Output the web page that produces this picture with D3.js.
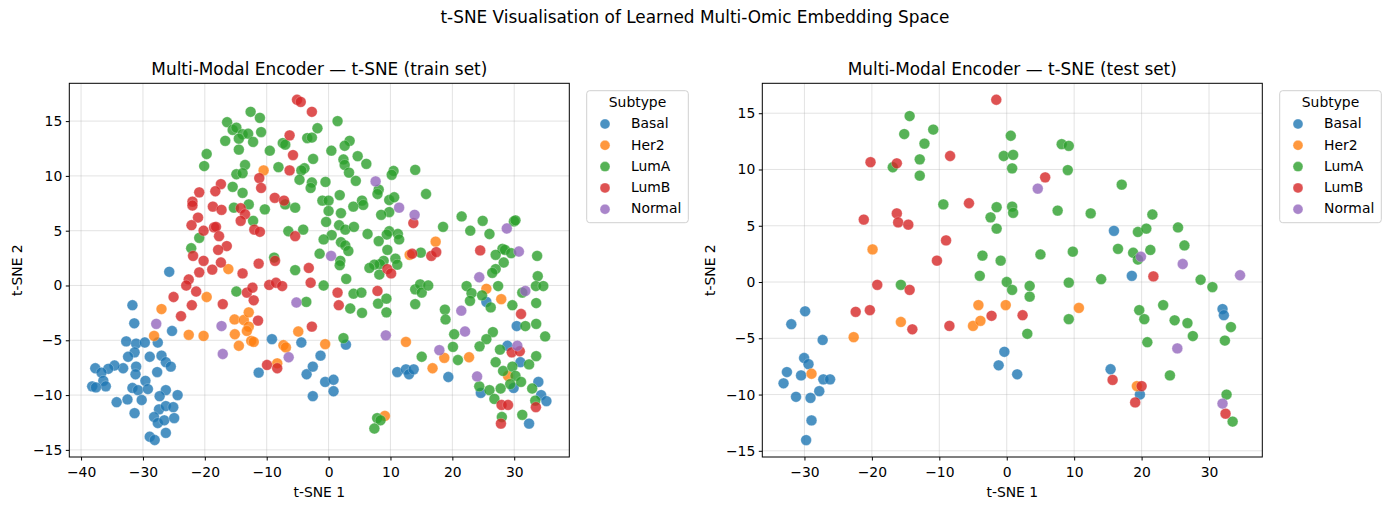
<!DOCTYPE html>
<html>
<head>
<meta charset="utf-8">
<script src="https://cdn.jsdelivr.net/npm/d3@7"></script>
<style>
  body { margin: 0; background: #fff; }
  svg text { font-family: "DejaVu Sans", sans-serif; fill: #000; }
</style>
</head>
<body>
<div id="chart"></div>
<script>
// ---- data (t-SNE 1, t-SNE 2) ----
const subtypes = ["Basal", "Her2", "LumA", "LumB", "Normal"];
const colors = ["#1f77b4", "#ff7f0e", "#2ca02c", "#d62728", "#9467bd"];

const trainBasal = [
  [-25.75,1.25],[-31.7,-1.8],[-31.4,-3.45],[-32.7,-5.1],[-31.1,-5.3],[-29.7,-5.2],[-27.6,-5.2],[-31.35,-6.1],
  [-32.4,-6.5],[-28.9,-6.5],[-27.0,-6.4],[-26.3,-7.0],[-25.5,-7.4],[-31.1,-7.4],[-33.2,-7.55],[-34.6,-7.3],
  [-35.6,-7.6],[-37.7,-7.55],[-36.7,-7.95],[-31.2,-8.1],[-27.7,-7.9],[-36.4,-8.7],[-36.0,-9.2],[-38.2,-9.2],
  [-37.6,-9.3],[-29.6,-8.7],[-31.7,-9.35],[-30.8,-9.55],[-29.2,-9.45],[-26.3,-9.55],[-24.4,-10.0],[-27.3,-10.1],
  [-34.25,-10.65],[-32.5,-10.4],[-30.2,-10.45],[-27.4,-11.3],[-26.3,-11.0],[-25.1,-11.1],[-31.35,-11.65],
  [-28.2,-12.0],[-27.6,-12.55],[-26.55,-12.3],[-24.95,-12.1],[-26.3,-13.45],[-28.9,-13.8],[-28.1,-14.1],
  [-25.3,-4.15],[-11.3,-7.95],[-9.15,-4.9],[-4.4,-5.2],[-3.55,-8.1],[-2.55,-7.4],[-2.55,-10.1],
  [2.8,-5.4],[-1.3,-6.4],[-0.55,-8.8],[0.8,-8.6],[0.8,-9.65],[11.1,-7.9],[12.5,-7.65],[13.0,-8.1],[13.75,-7.65],
  [19.35,-8.35],[25.5,-1.5],[30.4,-3.7],[28.9,-5.5],[31.0,-7.0],[29.9,-9.35],[33.9,-8.8],[34.35,-10.0],
  [35.2,-10.55],[24.6,-9.8],[32.4,-12.6]
];
const trainHer2 = [
  [-10.5,10.5],[-16.2,1.5],[13.1,2.8],[17.3,4.0],[-27.0,-2.15],[-28.2,-4.6],[-19.7,-1.05],[-22.6,-4.5],
  [-20.2,-4.6],[-15.2,-3.1],[-13.7,-3.15],[-12.9,-2.45],[-12.9,-3.75],[-13.2,-4.15],[-15.15,-4.45],
  [-12.5,-5.05],[-12.1,-5.15],[-14.5,-5.5],[-7.3,-5.45],[-6.9,-5.65],[-4.9,-4.2],[-8.3,-7.1],[-0.55,-5.35],
  [12.5,-5.15],[9.1,-11.9],[18.7,-6.6],[16.8,-7.55],[22.7,-6.55],[25.5,-0.3],[27.9,-1.25],[29.0,-8.25]
];
const trainLumA = [
  [-12.6,15.85],[-11.1,15.3],[-16.4,14.9],[-15.5,14.2],[-14.9,14.4],[-13.9,13.8],[-13.0,13.85],[-14.5,13.4],
  [-12.2,13.1],[-10.9,14.0],[-16.7,13.2],[-14.5,12.4],[-9.5,12.3],[-7.4,13.0],[-7.0,12.85],[-3.45,13.45],
  [-2.7,13.5],[-1.8,14.35],[-2.5,11.55],[-3.9,10.7],[-4.4,10.5],[-4.7,9.65],[-2.7,9.4],[-2.9,8.9],
  [-19.7,12.0],[-20.1,10.9],[-13.5,11.0],[-14.9,10.15],[-13.9,10.25],[-8.1,10.8],[-15.5,9.0],[-13.9,8.45],
  [-12.9,7.4],[-15.3,7.1],[-10.3,6.95],[-7.0,7.4],[-5.4,7.1],[-12.2,5.9],[-6.5,4.95],[-4.1,5.1],
  [-20.9,4.35],[-22.2,3.4],[-8.8,2.55],[-5.4,1.4],
  [1.45,15.0],[3.4,13.2],[2.6,12.75],[0.45,12.3],[2.4,11.5],[2.6,11.0],[4.7,11.8],[6.1,11.1],[3.3,10.3],
  [4.4,9.55],[10.5,10.45],[10.2,10.1],[14.0,10.55],[-0.5,9.45],[8.1,8.75],[7.9,8.35],[1.8,8.25],[-1.0,7.75],
  [0,7.75],[5.4,7.75],[5.6,7.35],[4.0,7.2],[9.8,7.8],[10.6,8.05],[15.75,8.35],[0,6.8],[2.0,6.6],[9.8,6.7],
  [8.5,6.45],[-0.4,5.8],[1.7,5.5],[2.7,5.1],[4.1,5.35],[0.5,4.6],[-0.8,4.2],[6.3,4.7],[9.8,4.95],[9.4,4.65],
  [11.2,4.7],[11.4,4.2],[8.1,4.05],[2.0,3.95],[2.7,3.65],[3.2,3.15],[-1.45,2.9],[9.5,3.25],[10.8,2.45],
  [11.1,1.9],[8.9,2.25],[8.3,1.95],[7.4,1.9],[6.6,1.6],[1.9,2.25],[1.8,1.85],[8.2,1.0],[2.85,0.6],[14.9,3.0],
  [18.5,5.35],[21.5,6.3],[22.9,5.0],[24.9,5.9],[26.0,4.7],[29.95,5.85],[30.2,5.95],[28.1,3.35],[28.5,3.25],
  [27.0,2.8],[29.5,2.95],[28.3,2.1],[27.0,1.5],[26.45,1.15],[33.7,2.7],[33.8,0.85],
  [-14.9,-0.55],[-3.6,-1.5],
  [-0.8,0],[4.03,-0.75],[5.3,-0.65],[3.5,-2.1],[5.4,-2.5],[8.0,-1.65],[9.35,-1.2],[9.35,-2.45],[14.0,-0.35],
  [14.8,0.1],[15.05,-0.65],[16.1,0],[14.0,-1.7],[18.8,-2.2],[18.9,-3.1],[20.3,-4.45],[20.1,-5.6],[20.9,-6.8],
  [22.3,-0.05],[23.1,-0.7],[22.85,-1.4],[24.8,-0.9],[26.2,-2.0],[27.4,-0.05],[29.7,-1.8],[31.3,-0.65],
  [33.5,-0.05],[34.7,-0.05],[33.55,-1.6],[31.8,-3.7],[33.55,-3.5],[35.0,-4.65],[26.55,-4.25],[25.5,-4.9],
  [24.4,-5.55],[27.7,-5.85],[27.0,-7.0],[28.2,-7.8],[29.7,-7.4],[30.2,-8.25],[32.4,-7.2],[33.55,-6.45],
  [31.1,-8.8],[29.35,-9.0],[27.8,-9.4],[26.0,-9.55],[24.35,-9.2],[26.8,-10.35],[32.9,-9.4],[33.4,-10.5],
  [28.0,-12.0],[31.3,-11.8],[2.4,-4.8],[15.05,-6.5],[7.85,-12.1],[8.4,-12.3],[7.4,-13.05]
];
const trainLumB = [
  [-5.1,16.95],[-4.5,16.75],[-2.7,15.85],[-6.3,13.7],[-5.75,11.9],[-6.3,10.5],[-11.2,9.8],[-10.9,8.9],
  [-17.4,9.25],[-18.3,8.6],[-20.9,8.5],[-22.0,7.65],[-22.0,7.3],[-18.7,7.2],[-17.3,6.9],[-14.2,7.05],
  [-13.5,6.5],[-14.2,5.9],[-21.1,6.2],[-22.15,5.5],[-20.2,5.0],[-18.5,5.3],[-18.2,5.35],[-17.7,4.5],
  [-16.45,3.6],[-17.85,3.25],[-21.9,2.7],[-20.2,2.25],[-17.4,2.1],[-18.8,1.45],[-20.9,1.2],[-13.9,1.1],
  [-11.3,2.0],[-8.7,8.0],[-7.2,7.75],[-12.0,5.1],[-11.1,4.9],[-5.4,4.5],[-8.65,2.25],[-3.2,1.6],
  [13.7,5.7],[9.5,1.5],[10.1,1.1],[13.5,2.9],[16.6,2.7],[17.4,3.05],[24.5,3.2],
  [-22.6,0.55],[-23.0,0],[-21.4,-0.55],[-25.05,-1.05],[-22.1,-1.8],[-23.85,-2.8],[-17.1,-1.7],[-13.2,-0.65],
  [-12.3,-0.2],[-12.1,-1.35],[-11.4,-3.2],[-9.6,0.05],[-8.5,0.25],[-7.5,-0.05],[-2.9,0.25],[-2.7,-3.75],
  [-9.95,-7.25],[-8.3,-7.55],
  [1.45,-0.65],[1.65,-1.8],[7.9,-0.5],[31.1,-2.6],[29.6,-6.1],[30.9,-6.0],[27.95,-10.9],[29.0,-10.9],
  [27.85,-12.6],[33.5,-11.1]
];
const trainNormal = [
  [7.6,9.5],[11.4,7.1],[13.9,6.45],[0.4,2.7],[28.8,5.2],[30.75,3.1],[24.35,0.75],[-27.85,-3.5],[-17.3,-3.7],
  [-17.1,-6.25],[-5.2,-1.55],[-6.45,-6.55],[31.8,-0.5],[21.45,-2.3],[22.05,-4.2],[9.25,-4.55],[17.9,-5.9],
  [24.0,-8.3],[30.5,-5.5]
];

const testBasal = [
  [-29.9,-2.6],[-31.95,-3.75],[-27.3,-5.15],[-30.05,-6.75],[-29.4,-7.3],[-32.6,-8.0],[-30.5,-8.3],[-33.1,-9.0],
  [-27.2,-8.65],[-26.2,-8.65],[-27.8,-9.7],[-31.25,-10.2],[-29.1,-10.3],[-28.95,-12.3],[-29.75,-14.05],
  [-0.35,-6.2],[-1.2,-7.4],[1.55,-8.2],[15.4,-7.75],[19.75,-10.0],[32.0,-2.4],[32.2,-2.95],[15.9,4.55],[18.55,0.55]
];
const testHer2 = [
  [-19.9,2.9],[-4.2,-2.05],[-0.15,-2.05],[-15.7,-3.55],[-5.0,-3.9],[-3.9,-3.45],[-22.7,-4.9],[-28.95,-8.15],
  [10.7,-2.3],[19.3,-9.25]
];
const testLumA = [
  [-14.4,14.75],[-15.2,13.15],[-10.9,13.55],[-12.2,12.3],[-12.9,10.9],[-16.9,10.2],[-12.9,9.45],[0.6,13.0],
  [-0.45,11.2],[0.95,11.3],[0.8,10.1],[-9.4,6.9],[-1.5,6.65],[0.8,6.7],[0.95,6.15],[-2.4,5.75],[-1.5,4.75],
  [-3.6,2.35],[-0.9,1.9],[-4.0,0.55],
  [8.15,12.25],[9.2,12.1],[9.05,9.95],[17.05,8.65],[7.55,6.35],[12.45,6.1],[21.6,6.0],[19.45,4.45],[20.7,4.75],
  [25.4,4.85],[26.35,3.25],[16.5,2.95],[18.75,2.6],[19.45,2.0],[21.3,2.85],[5.0,2.45],[9.8,2.7],[14.0,0.25],
  [28.75,0.2],
  [0,0],[0.8,-0.7],[-15.7,-0.25],
  [3.4,-0.35],[3.4,-1.3],[9.2,-0.05],[3.05,-4.6],[9.2,-3.3],[30.5,-0.45],[23.2,-2.05],[19.65,-2.5],[20.4,-3.3],
  [24.9,-3.4],[26.8,-3.65],[27.6,-4.8],[20.85,-5.35],[33.25,-4.0],[32.35,-5.2],[24.2,-8.3],[32.6,-10.0],[33.5,-12.4]
];
const testLumB = [
  [-1.55,16.2],[-20.2,10.65],[-16.3,10.55],[-8.4,11.2],[-5.6,7.0],[-16.3,6.1],[-16.1,5.3],[-21.2,5.55],
  [-14.6,5.1],[-9.0,3.7],[-10.35,1.9],[5.7,9.3],[21.75,0.5],[-19.2,-0.25],[-14.4,-0.7],[-22.4,-2.65],
  [-20.3,-2.5],[-14.0,-4.2],[-8.5,-3.9],[-2.25,-3.0],[2.35,-2.95],[15.7,-8.7],[20.0,-9.25],[19.05,-10.7],
  [32.45,-11.7]
];
const testNormal = [
  [4.6,8.3],[19.9,2.25],[26.1,1.6],[34.6,0.6],[25.3,-5.9],[32.0,-10.8]
];

const xTicks = [-40, -30, -20, -10, 0, 10, 20, 30];
const yTicks = [-15, -10, -5, 0, 5, 10, 15];

const panels = [
  { title: "Multi-Modal Encoder \u2014 t-SNE (train set)", left: 69.3,
    xDomain: [-41.9, 38.9], yDomain: [-15.65, 18.45],
    groups: [trainBasal, trainHer2, trainLumA, trainLumB, trainNormal] },
  { title: "Multi-Modal Encoder \u2014 t-SNE (test set)", left: 762.3,
    xDomain: [-36.25, 37.9], yDomain: [-15.55, 17.66],
    groups: [testBasal, testHer2, testLumA, testLumB, testNormal] }
];

const W = 1390, H = 510;
const plotW = 500, plotTop = 83.3, plotBottom = 457;

const svg = d3.select("#chart").append("svg")
  .attr("width", W).attr("height", H);

svg.append("text")
  .attr("x", 695).attr("y", 23)
  .attr("text-anchor", "middle")
  .attr("font-size", 16.9)
  .text("t-SNE Visualisation of Learned Multi-Omic Embedding Space");

panels.forEach(p => {
  const g = svg.append("g").attr("transform", `translate(${p.left},0)`);

  const xScale = d3.scaleLinear().domain(p.xDomain).range([0, plotW]);
  const yScale = d3.scaleLinear().domain(p.yDomain).range([plotBottom, plotTop]);
  const xt = xTicks.filter(t => t >= p.xDomain[0] && t <= p.xDomain[1]);

  // grid
  g.append("g").selectAll("line").data(xt).join("line")
    .attr("x1", d => xScale(d)).attr("x2", d => xScale(d))
    .attr("y1", plotTop).attr("y2", plotBottom)
    .attr("stroke", "#b0b0b0").attr("stroke-opacity", 0.35).attr("stroke-width", 1);
  g.append("g").selectAll("line").data(yTicks).join("line")
    .attr("x1", 0).attr("x2", plotW)
    .attr("y1", d => yScale(d)).attr("y2", d => yScale(d))
    .attr("stroke", "#b0b0b0").attr("stroke-opacity", 0.35).attr("stroke-width", 1);

  // points, one layer per subtype
  p.groups.forEach((pts, i) => {
    g.append("g").selectAll("circle").data(pts).join("circle")
      .attr("cx", d => xScale(d[0]))
      .attr("cy", d => yScale(d[1]))
      .attr("r", 5.4)
      .attr("fill", colors[i])
      .attr("stroke", "#fff").attr("stroke-width", 0.3)
      .attr("opacity", 0.8);
  });

  // axes
  const xAxis = d3.axisBottom(xScale).tickValues(xt).tickSizeInner(3.5).tickSizeOuter(0).tickPadding(3.5);
  const yAxis = d3.axisLeft(yScale).tickValues(yTicks).tickSizeInner(3.5).tickSizeOuter(0).tickPadding(3.5);
  const xg = g.append("g").attr("transform", `translate(0,${plotBottom})`).call(xAxis);
  const yg = g.append("g").call(yAxis);
  [xg, yg].forEach(a => {
    a.select(".domain").remove();
    a.selectAll("text").attr("font-size", 13.9).attr("font-family", "DejaVu Sans").attr("fill", "#000");
    a.selectAll("line").attr("stroke", "#000").attr("stroke-width", 1);
  });
  xg.selectAll("text").attr("dy", "0.9em");

  // frame
  g.append("rect")
    .attr("x", 0).attr("y", plotTop).attr("width", plotW).attr("height", plotBottom - plotTop)
    .attr("fill", "none").attr("stroke", "#000").attr("stroke-width", 1);

  // titles and labels
  g.append("text").attr("x", plotW / 2).attr("y", 74.5)
    .attr("text-anchor", "middle").attr("font-size", 16.9).text(p.title);
  g.append("text").attr("x", plotW / 2).attr("y", 497)
    .attr("text-anchor", "middle").attr("font-size", 13.9).text("t-SNE 1");
  g.append("text")
    .attr("transform", `translate(${-47.5},${(plotTop + plotBottom) / 2}) rotate(-90)`)
    .attr("text-anchor", "middle").attr("font-size", 13.9).text("t-SNE 2");

  // legend
  const lg = g.append("g").attr("transform", `translate(${plotW + 17.4},90.7)`);
  lg.append("rect")
    .attr("width", 101.6).attr("height", 132).attr("rx", 3)
    .attr("fill", "#fff").attr("fill-opacity", 0.8)
    .attr("stroke", "#d0d0d0").attr("stroke-width", 1);
  lg.append("text").attr("x", 50.8).attr("y", 16.6)
    .attr("text-anchor", "middle").attr("font-size", 13.9).text("Subtype");
  subtypes.forEach((s, i) => {
    lg.append("circle")
      .attr("cx", 18.3).attr("cy", 33.3 + i * 21.3).attr("r", 5)
      .attr("fill", colors[i]).attr("stroke", "#fff").attr("stroke-width", 0.3)
      .attr("opacity", 0.8);
    lg.append("text")
      .attr("x", 44.3).attr("y", 37.6 + i * 21.3)
      .attr("font-size", 13.9).text(s);
  });
});
</script>
</body>
</html>
